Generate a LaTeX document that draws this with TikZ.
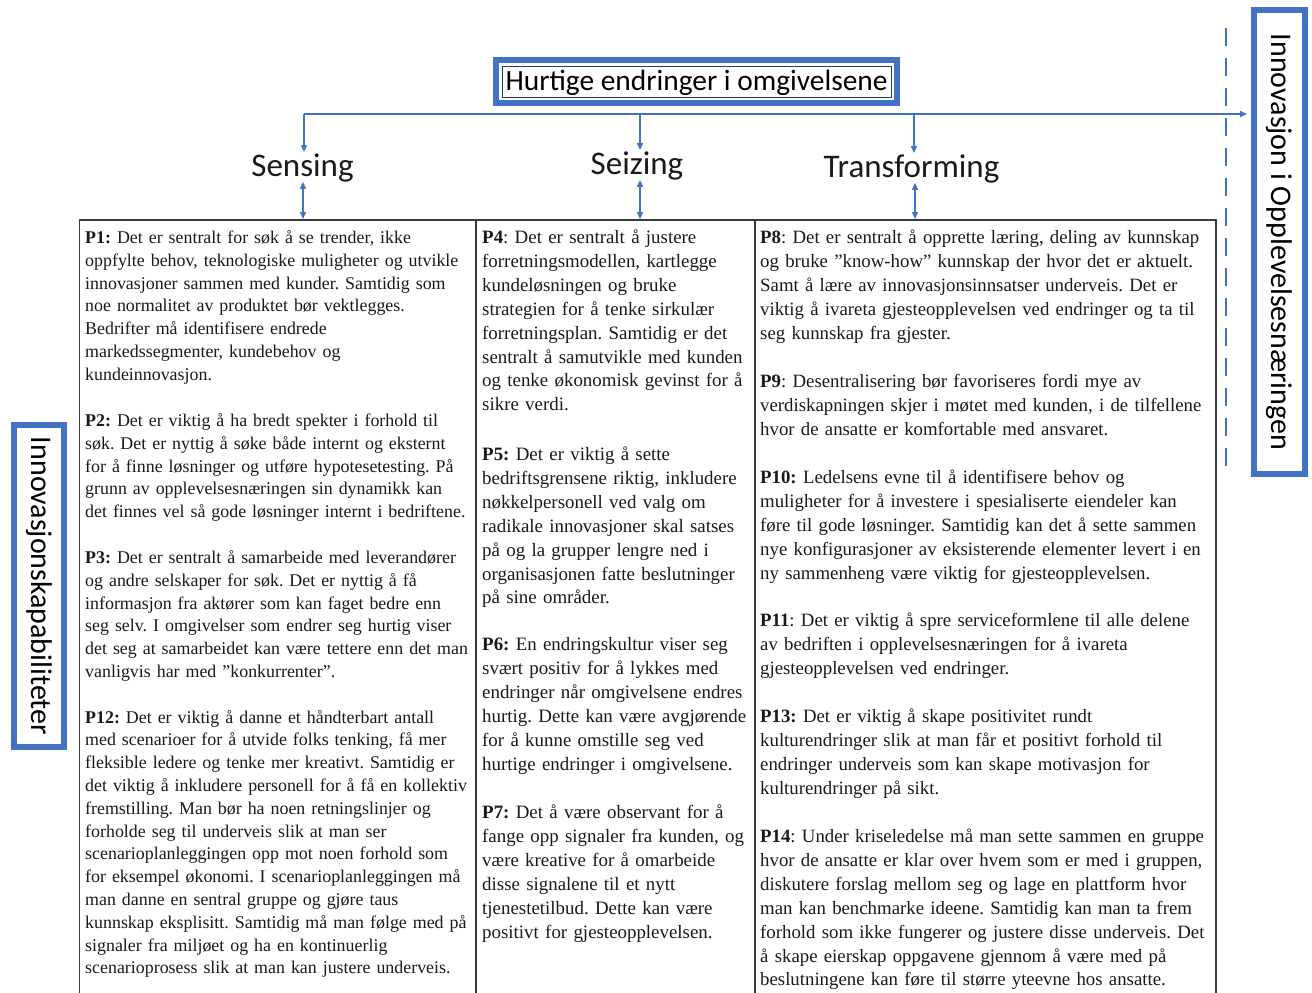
\documentclass[tikz,border=0pt]{standalone}
\usepackage{fontspec}
\setmainfont{Liberation Serif}
\newfontfamily\calib{Carlito}
\usetikzlibrary{arrows.meta}
\definecolor{obl}{HTML}{4472C4}
\definecolor{txt}{HTML}{1A1A1A}
\definecolor{tblc}{HTML}{3A3A3A}
\newcommand{\mytl}[1]{\mbox{#1}\\}
\frenchspacing
\begin{document}
\begin{tikzpicture}[x=1pt,y=-1pt,
  bluebox/.style={draw=obl, line width=6pt, fill=white, inner sep=0pt, text=black},
  innerln/.style={draw=obl!55!black, line width=0.7pt},
  hdr/.style={font=\calib\fontsize{33}{36}\selectfont, anchor=base, inner sep=0pt, text=txt},
  conn/.style={draw=obl, line width=1.4pt},
  tipd/.style={-{Triangle[length=7pt,width=6pt]}},
  tipdd/.style={{Triangle[length=7pt,width=6pt]}-{Triangle[length=7pt,width=6pt]}},
  tbl/.style={draw=tblc, line width=1.6pt},
  colA/.style={anchor=base west, inner sep=0pt, text width=390pt, align=left, font=\fontsize{17.9}{22.8}\selectfont, text=txt},
  colB/.style={anchor=base west, inner sep=0pt, text width=270pt, align=left, font=\fontsize{18.9}{23.9}\selectfont, text=txt},
  colC/.style={anchor=base west, inner sep=0pt, text width=452pt, align=left, font=\fontsize{18.8}{23.9}\selectfont, text=txt}
]
\useasboundingbox (0,0) rectangle (1312,993);
\fill[white] (0,0) rectangle (1312,993);

% table
\draw[tbl] (79.5,993) -- (79.5,220) -- (1216,220) -- (1216,993);
\draw[tbl] (476,220) -- (476,993);
\draw[tbl] (755,220) -- (755,993);

% title
\node[bluebox, minimum width=401pt, minimum height=43pt, text height=22pt, text depth=4pt, font=\calib\fontsize{29.4}{32}\selectfont] (title) at (696.5,81.5) {Hurtige endringer i omgivelsene};
\draw[innerln] ([shift={(9,9)}]title.north west) rectangle ([shift={(-9,-9)}]title.south east);

% side boxes
\node[bluebox, minimum width=322pt, minimum height=50pt, rotate=-90, font=\calib\fontsize{30}{32}\selectfont] (lbox) at (39,586) {Innovasjonskapabiliteter};
\node[bluebox, minimum width=464pt, minimum height=51pt, rotate=-90, font=\calib\fontsize{30}{32}\selectfont] (rbox) at (1279.5,242) {Innovasjon i Opplevelsesnæringen};

% dashed line
\coordinate (dtop) at (1226,28);
\coordinate (dbot) at (1226,470);
\draw[draw=obl, line width=1.5pt, dash pattern=on 18pt off 12pt] (dtop) -- (dbot);

% headers
\node[hdr] (sensing) at (302.5,176) {Sensing};
\node[hdr] (seizing) at (637,174) {Seizing};
\node[hdr] (transf) at (911.5,177) {Transforming};

% connectors
\coordinate (jS) at (304,114);
\coordinate (jZ) at (640,114);
\coordinate (jT) at (914,114);
\coordinate (tS) at (303,219);
\coordinate (tZ) at (640,219);
\coordinate (tT) at (915,219);
\draw[conn, tipd, shorten >=4pt] (jS) -- (jS -| rbox.south);
\draw[conn, tipd, shorten >=1pt] (jS) -- (jS |- sensing.north);
\draw[conn, tipd, shorten >=1pt] (jZ) -- (jZ |- seizing.north);
\draw[conn, tipd, shorten >=1pt] (jT) -- (jT |- transf.north);
\draw[conn, tipdd] (tS |- sensing.south) -- (tS);
\draw[conn, tipdd] (tZ |- seizing.south) -- (tZ);
\draw[conn, tipdd] (tT |- transf.south) -- (tT);

% column 1
\node[colA] (p1) at (85,243.5) {\mytl{\textbf{P1:} Det er sentralt for søk å se trender, ikke}
\mytl{oppfylte behov, teknologiske muligheter og utvikle}
\mytl{innovasjoner sammen med kunder. Samtidig som}
\mytl{noe normalitet av produktet bør vektlegges.}
\mytl{Bedrifter må identifisere endrede}
\mytl{markedssegmenter, kundebehov og}
\mbox{kundeinnovasjon.}};
\node[colA] (p2) at (85,426.5) {\mytl{\textbf{P2:} Det er viktig å ha bredt spekter i forhold til}
\mytl{søk. Det er nyttig å søke både internt og eksternt}
\mytl{for å finne løsninger og utføre hypotesetesting. På}
\mytl{grunn av opplevelsesnæringen sin dynamikk kan}
\mbox{det finnes vel så gode løsninger internt i bedriftene.}};
\node[colA] (p3) at (85,563.5) {\mytl{\textbf{P3:} Det er sentralt å samarbeide med leverandører}
\mytl{og andre selskaper for søk. Det er nyttig å få}
\mytl{informasjon fra aktører som kan faget bedre enn}
\mytl{seg selv. I omgivelser som endrer seg hurtig viser}
\mytl{det seg at samarbeidet kan være tettere enn det man}
\mbox{vanligvis har med ”konkurrenter”.}};
\node[colA] (p12) at (85,723) {\mytl{\textbf{P12:} Det er viktig å danne et håndterbart antall}
\mytl{med scenarioer for å utvide folks tenking, få mer}
\mytl{fleksible ledere og tenke mer kreativt. Samtidig er}
\mytl{det viktig å inkludere personell for å få en kollektiv}
\mytl{fremstilling. Man bør ha noen retningslinjer og}
\mytl{forholde seg til underveis slik at man ser}
\mytl{scenarioplanleggingen opp mot noen forhold som}
\mytl{for eksempel økonomi. I scenarioplanleggingen må}
\mytl{man danne en sentral gruppe og gjøre taus}
\mytl{kunnskap eksplisitt. Samtidig må man følge med på}
\mytl{signaler fra miljøet og ha en kontinuerlig}
\mbox{scenarioprosess slik at man kan justere underveis.}};

% column 2
\node[colB] (p4) at (482,243.5) {\mytl{\textbf{P4}: Det er sentralt å justere}
\mytl{forretningsmodellen, kartlegge}
\mytl{kundeløsningen og bruke}
\mytl{strategien for å tenke sirkulær}
\mytl{forretningsplan. Samtidig er det}
\mytl{sentralt å samutvikle med kunden}
\mytl{og tenke økonomisk gevinst for å}
\mbox{sikre verdi.}};
\node[colB] (p5) at (482,460.5) {\mytl{\textbf{P5:} Det er viktig å sette}
\mytl{bedriftsgrensene riktig, inkludere}
\mytl{nøkkelpersonell ved valg om}
\mytl{radikale innovasjoner skal satses}
\mytl{på og la grupper lengre ned i}
\mytl{organisasjonen fatte beslutninger}
\mbox{på sine områder.}};
\node[colB] (p6) at (482,650.5) {\mytl{\textbf{P6:} En endringskultur viser seg}
\mytl{svært positiv for å lykkes med}
\mytl{endringer når omgivelsene endres}
\mytl{hurtig. Dette kan være avgjørende}
\mytl{for å kunne omstille seg ved}
\mbox{hurtige endringer i omgivelsene.}};
\node[colB] (p7) at (482,818.5) {\mytl{\textbf{P7:} Det å være observant for å}
\mytl{fange opp signaler fra kunden, og}
\mytl{være kreative for å omarbeide}
\mytl{disse signalene til et nytt}
\mytl{tjenestetilbud. Dette kan være}
\mbox{positivt for gjesteopplevelsen.}};

% column 3
\node[colC] (p8) at (760,243.5) {\mytl{\textbf{P8}: Det er sentralt å opprette læring, deling av kunnskap}
\mytl{og bruke ”know-how” kunnskap der hvor det er aktuelt.}
\mytl{Samt å lære av innovasjonsinnsatser underveis. Det er}
\mytl{viktig å ivareta gjesteopplevelsen ved endringer og ta til}
\mbox{seg kunnskap fra gjester.}};
\node[colC] (p9) at (760,387.5) {\mytl{\textbf{P9}: Desentralisering bør favoriseres fordi mye av}
\mytl{verdiskapningen skjer i møtet med kunden, i de tilfellene}
\mbox{hvor de ansatte er komfortable med ansvaret.}};
\node[colC] (p10) at (760,483.5) {\mytl{\textbf{P10:} Ledelsens evne til å identifisere behov og}
\mytl{muligheter for å investere i spesialiserte eiendeler kan}
\mytl{føre til gode løsninger. Samtidig kan det å sette sammen}
\mytl{nye konfigurasjoner av eksisterende elementer levert i en}
\mbox{ny sammenheng være viktig for gjesteopplevelsen.}};
\node[colC] (p11) at (760,626.5) {\mytl{\textbf{P11}: Det er viktig å spre serviceformlene til alle delene}
\mytl{av bedriften i opplevelsesnæringen for å ivareta}
\mbox{gjesteopplevelsen ved endringer.}};
\node[colC] (p13) at (760,722.5) {\mytl{\textbf{P13:} Det er viktig å skape positivitet rundt}
\mytl{kulturendringer slik at man får et positivt forhold til}
\mytl{endringer underveis som kan skape motivasjon for}
\mbox{kulturendringer på sikt.}};
\node[colC] (p14) at (760,842.5) {\mytl{\textbf{P14}: Under kriseledelse må man sette sammen en gruppe}
\mytl{hvor de ansatte er klar over hvem som er med i gruppen,}
\mytl{diskutere forslag mellom seg og lage en plattform hvor}
\mytl{man kan benchmarke ideene. Samtidig kan man ta frem}
\mytl{forhold som ikke fungerer og justere disse underveis. Det}
\mytl{å skape eierskap oppgavene gjennom å være med på}
\mbox{beslutningene kan føre til større yteevne hos ansatte.}};
\end{tikzpicture}
\end{document}
